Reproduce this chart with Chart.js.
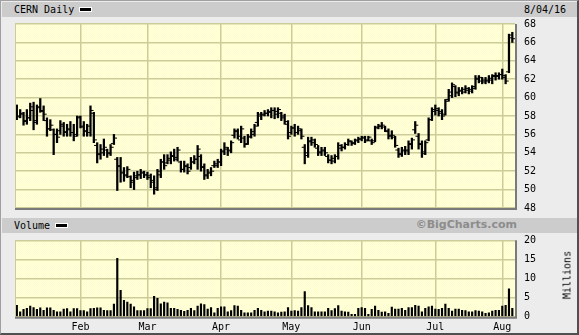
<!DOCTYPE html>
<html>
<head>
<meta charset="utf-8">
<script src="https://cdn.jsdelivr.net/npm/chart.js@4.4.1/dist/chart.umd.min.js"></script>
<style>
body { margin: 0; background: #fff; }
#page {
    position: relative; width: 579px; height: 335px; box-sizing: border-box;
    background: #ececec; overflow: hidden;
    border: 1px solid #a0a0a0; border-right: 2px solid #505050; border-bottom: 2px solid #505050;
    font-family: "DejaVu Sans Mono", monospace; font-size: 10px; color: #000;
}
.band { position: absolute; left: 1px; width: 577px; height: 15px; background: #cccccc; }
.label { position: absolute; line-height: 15px; white-space: nowrap; }
.swatch { position: absolute; width: 11px; height: 3px; background: #000; border: 1px solid #fff; }
.brand { position: absolute; top: 217px; right: 60px; line-height: 15px; font: bold 11px "DejaVu Sans", sans-serif; color: #8c8c8c; }
.millions { position: absolute; left: 566px; top: 274px; transform: translate(-50%, -50%) rotate(-90deg); white-space: nowrap; }
canvas { position: absolute; left: -1px; }
</style>
</head>
<body>
<div id="page">
    <div class="band" style="top:1px"></div>
    <div class="label" style="left:13px;top:1px">CERN Daily</div>
    <div class="swatch" style="left:78px;top:6px"></div>
    <div class="label" style="left:523px;top:1px">8/04/16</div>

    <div class="band" style="top:217px"></div>
    <div class="label" style="left:13px;top:217px">Volume</div>
    <div class="swatch" style="left:54px;top:222px"></div>
    <div class="brand">©BigCharts.com</div>

    <canvas id="priceChart" width="579" height="215" style="top:-1px"></canvas>
    <canvas id="volumeChart" width="579" height="110" style="top:224px"></canvas>
    <div class="millions">Millions</div>
</div>

<script>
// month gridlines sit on the first trading day of each month (index into the daily arrays)
const monthLabels = ["Feb", "Mar", "Apr", "May", "Jun", "Jul", "Aug"];
const monthStarts = [19, 39, 61, 82, 103, 125, 145];
const priceTicks = [48, 50, 52, 54, 56, 58, 60, 62, 64, 66, 68];
const volumeTicks = [0, 5, 10, 15, 20];

// daily bars, Jan 4 - Aug 4 2016
const openPrice = [
    58.8, 58.0, 58.2, 57.5, 57.8, 59.0, 57.5, 59.0, 58.5, 57.5, 56.6, 56.5, 56.0, 56.4, 56.9, 56.2, 56.5, 56.2, 56.0,
    57.8, 56.8, 56.3, 56.2, 58.3, 54.8, 53.9, 54.0, 54.3, 54.0, 55.0, 53.3, 52.6, 51.8, 51.6, 51.4, 51.0, 51.5, 51.6, 51.8,
    51.6, 51.5, 51.0, 50.2, 51.6, 53.0, 52.9, 53.2, 53.6, 53.3, 53.0, 52.2, 52.5, 52.4, 53.0, 53.3, 53.6, 52.5, 51.6, 51.8, 52.6, 52.6,
    53.0, 54.2, 54.4, 54.3, 55.9, 56.4, 55.4, 55.6, 55.0, 55.8, 56.0, 57.3, 58.0, 58.2, 58.3, 58.4, 58.6, 58.5, 58.3, 58.0, 57.1,
    56.2, 56.7, 56.2, 56.4, 54.6, 54.0, 55.2, 55.1, 54.5, 54.1, 54.3, 53.6, 53.2, 53.1, 53.6, 54.5, 54.6, 54.9, 55.2, 55.1, 55.3,
    55.5, 55.7, 55.4, 55.3, 55.3, 56.8, 56.9, 56.8, 56.3, 55.9, 55.7, 54.3, 53.9, 54.2, 54.2, 55.0, 56.5, 55.8, 55.0, 54.1, 55.4, 57.6,
    58.7, 58.6, 58.5, 58.2, 59.8, 60.2, 61.2, 60.6, 60.8, 60.9, 60.8, 60.9, 61.2, 62.1, 61.8, 61.9, 61.8, 61.9, 62.3, 62.4,
    62.5, 62.2, 62.8, 66.8
];
const highPrice = [
    59.2, 58.7, 58.4, 58.7, 59.4, 59.5, 59.2, 59.9, 59.1, 57.8, 57.6, 56.6, 56.6, 57.5, 57.3, 57.1, 57.4, 57.1, 58.0,
    58.0, 57.4, 57.1, 59.1, 58.4, 55.1, 54.9, 55.5, 54.4, 54.9, 56.0, 53.5, 53.5, 52.4, 52.5, 51.5, 51.9, 52.0, 52.2, 52.0,
    51.9, 51.7, 51.5, 52.2, 53.3, 53.8, 53.8, 54.1, 54.4, 54.6, 53.1, 53.1, 52.8, 53.5, 53.7, 54.8, 53.8, 52.8, 52.2, 52.4, 53.1, 53.3,
    54.4, 55.1, 54.6, 55.3, 56.6, 56.6, 56.9, 55.8, 56.0, 56.6, 57.1, 58.4, 58.4, 58.6, 58.7, 58.9, 58.9, 58.9, 58.4, 58.2, 57.5,
    56.9, 57.1, 56.9, 56.6, 54.9, 55.7, 55.7, 55.5, 54.8, 54.6, 54.6, 53.8, 53.7, 53.8, 55.1, 54.9, 55.1, 55.5, 55.3, 55.5, 55.7,
    55.8, 55.8, 55.8, 55.5, 56.9, 57.1, 57.3, 56.9, 56.6, 56.4, 55.8, 54.5, 54.6, 54.7, 55.3, 55.6, 57.4, 56.1, 55.3, 55.3, 57.8, 58.9,
    59.2, 58.9, 58.7, 59.8, 60.9, 61.6, 61.3, 61.1, 61.1, 61.3, 61.1, 61.3, 62.4, 62.4, 62.2, 62.2, 62.4, 62.5, 62.7, 62.7,
    63.1, 62.5, 66.9, 67.1
];
const lowPrice = [
    57.6, 57.8, 57.0, 57.1, 57.5, 56.5, 57.1, 58.4, 57.5, 55.8, 56.4, 53.8, 55.1, 56.0, 55.8, 55.8, 55.8, 55.3, 55.8,
    56.7, 55.8, 55.8, 55.8, 55.1, 52.9, 53.3, 53.7, 53.5, 53.7, 54.9, 49.9, 50.8, 50.9, 51.3, 50.2, 50.0, 51.1, 51.2, 51.3,
    51.1, 50.2, 49.5, 49.9, 51.3, 52.2, 52.8, 52.8, 53.1, 53.1, 51.9, 51.9, 51.7, 52.2, 52.8, 52.2, 52.0, 51.1, 51.2, 51.5, 52.4, 52.4,
    52.6, 53.8, 53.7, 54.0, 55.6, 55.5, 55.1, 54.6, 54.9, 55.6, 55.8, 56.9, 57.6, 58.0, 58.0, 57.8, 57.7, 57.8, 57.5, 57.1, 55.5,
    56.0, 55.8, 56.0, 55.5, 52.8, 53.5, 54.8, 54.6, 53.7, 53.7, 53.7, 52.9, 52.8, 52.9, 53.3, 54.2, 54.4, 54.8, 54.8, 54.9, 55.1,
    55.3, 55.1, 55.3, 54.9, 55.2, 56.6, 56.6, 56.3, 55.5, 55.5, 54.6, 53.5, 53.6, 53.8, 53.8, 54.4, 56.1, 54.4, 53.5, 53.8, 55.3, 57.5,
    58.1, 58.0, 57.6, 58.1, 59.6, 60.0, 60.1, 60.2, 60.4, 60.5, 60.4, 60.5, 60.9, 61.6, 61.5, 61.5, 61.6, 61.5, 61.9, 62.0,
    62.0, 61.5, 62.7, 66.0
];
const closePrice = [
    57.9, 58.3, 57.4, 57.8, 58.6, 57.3, 58.9, 58.6, 58.2, 56.6, 57.0, 56.0, 55.7, 57.1, 56.3, 56.6, 56.2, 55.8, 57.9,
    56.9, 56.4, 56.9, 58.6, 55.4, 53.8, 54.4, 54.6, 53.9, 54.6, 55.6, 52.5, 51.9, 51.5, 52.2, 50.8, 51.3, 51.6, 51.9, 51.6,
    51.3, 50.8, 50.0, 52.0, 53.0, 52.6, 53.4, 53.7, 53.5, 54.3, 52.2, 52.6, 52.0, 53.0, 53.3, 54.4, 52.4, 51.5, 51.9, 52.0, 52.8, 53.0,
    54.1, 54.6, 54.2, 55.1, 56.3, 55.8, 56.6, 54.9, 55.7, 56.3, 56.9, 58.2, 58.1, 58.3, 58.5, 58.6, 58.2, 58.7, 57.8, 57.4, 55.8,
    56.7, 56.2, 56.6, 55.8, 53.7, 55.3, 55.4, 54.9, 54.0, 54.2, 54.0, 53.2, 53.4, 53.6, 54.8, 54.6, 54.9, 55.3, 55.0, 55.4, 55.5,
    55.6, 55.3, 55.7, 55.1, 56.7, 56.9, 57.0, 56.4, 55.8, 55.9, 54.8, 53.8, 54.3, 54.3, 54.9, 55.4, 57.0, 54.9, 53.9, 55.1, 57.6, 58.5,
    58.8, 58.3, 58.0, 59.6, 60.6, 61.4, 60.5, 60.7, 60.6, 61.0, 60.7, 61.0, 62.0, 62.2, 61.7, 61.9, 62.1, 62.4, 62.3, 62.5,
    62.4, 61.8, 66.5, 66.4
];
// millions of shares
const volume = [
    3.0, 1.3, 1.9, 2.2, 2.8, 2.4, 1.9, 2.3, 1.7, 2.3, 2.3, 1.7, 1.3, 1.3, 2.0, 2.1, 1.3, 2.1, 2.1,
    1.6, 1.6, 1.3, 2.1, 2.2, 2.3, 2.3, 1.7, 1.6, 1.6, 3.3, 15.3, 6.9, 4.3, 3.8, 3.3, 2.6, 1.6, 1.6, 1.6,
    2.1, 2.1, 5.3, 4.8, 3.4, 3.8, 3.6, 2.2, 2.2, 1.9, 1.7, 1.4, 1.7, 2.2, 1.6, 2.8, 3.4, 3.2, 2.0, 2.4, 1.0, 2.2,
    2.6, 2.6, 1.3, 1.6, 2.9, 2.8, 1.7, 1.0, 1.0, 1.0, 1.7, 2.2, 1.7, 1.3, 1.5, 1.5, 1.3, 1.0, 1.2, 1.3, 2.4,
    1.5, 1.6, 1.5, 2.4, 6.6, 2.9, 2.4, 1.3, 1.3, 1.3, 1.3, 2.2, 1.6, 2.1, 2.9, 1.5, 1.3, 1.2, 0.6, 0.6, 2.2,
    2.4, 2.2, 0.6, 1.9, 2.8, 1.7, 1.2, 1.3, 0.9, 2.5, 2.0, 2.0, 2.2, 1.7, 2.4, 2.4, 3.0, 2.8, 1.3, 2.2, 2.6, 2.8,
    2.0, 1.9, 2.2, 3.3, 2.2, 1.5, 2.0, 2.0, 1.7, 1.6, 1.3, 1.3, 1.6, 1.5, 1.3, 0.9, 1.0, 1.5, 1.7, 1.7,
    2.8, 3.0, 7.3, 2.2
];

const gridColor = "#cccc99";
const xMin = -0.55, xMax = 148.8;

Chart.defaults.font.family = "'DejaVu Sans Mono', monospace";
Chart.defaults.font.size = 10;
Chart.defaults.color = "#000";

// pale yellow dither behind the plot
let dots = document.createElement("canvas");
dots.width = 2; dots.height = 2;
let dg = dots.getContext("2d");
dg.fillStyle = "#ffffc4";
dg.fillRect(0, 0, 2, 2);
dg.fillStyle = "#ffffe6";
dg.fillRect(0, 0, 1, 1);
dg.fillRect(1, 1, 1, 1);

const panelPlugin = {
    id: "panel",
    beforeDraw(chart) {
        let a = chart.chartArea, ctx = chart.ctx;
        ctx.save();
        ctx.fillStyle = ctx.createPattern(dots, "repeat");
        ctx.fillRect(a.left, a.top, a.right - a.left, a.bottom - a.top);
        ctx.restore();
    },
    afterDraw(chart) {
        let a = chart.chartArea, ctx = chart.ctx;
        ctx.save();
        ctx.strokeStyle = gridColor;
        ctx.lineWidth = 1;
        ctx.beginPath();
        ctx.moveTo(a.left + 0.5, a.bottom);
        ctx.lineTo(a.left + 0.5, a.top);
        ctx.stroke();
        // darker edge along bottom and right
        ctx.strokeStyle = "#7a7a7a";
        ctx.lineWidth = 2;
        ctx.beginPath();
        ctx.moveTo(a.left, a.bottom + 1);
        ctx.lineTo(a.right + 1, a.bottom + 1);
        ctx.lineTo(a.right + 1, a.top);
        ctx.stroke();
        ctx.restore();
    }
};

function monthAxis(showLabels, height) {
    return {
        type: "linear",
        min: xMin,
        max: xMax,
        offset: false,
        afterBuildTicks: s => { s.ticks = monthStarts.map(v => ({ value: v })); },
        afterFit: s => { s.height = height; },
        grid: { color: gridColor, lineWidth: 1.5, drawTicks: false, offset: false },
        border: { display: false },
        ticks: {
            display: showLabels,
            padding: 5,
            autoSkip: false,
            maxRotation: 0,
            callback: v => monthLabels[monthStarts.indexOf(v)]
        }
    };
}

function valueAxis(min, max, tickList) {
    // the gap before the labels comes from an invisible tick mark, so the axis
    // does not ask the layout for extra room above and below the plot
    return {
        position: "right",
        min: min,
        max: max,
        afterBuildTicks: s => { s.ticks = tickList.map(v => ({ value: v })); },
        afterFit: s => { s.width = 64; },
        grid: { color: gridColor, lineWidth: 1.5, drawTicks: true, tickLength: 9, tickColor: "rgba(0,0,0,0)" },
        border: { display: false },
        ticks: { padding: 0 }
    };
}

function tickSet(values, shift) {
    return {
        type: "scatter",
        data: values.map((v, i) => ({ x: i + shift, y: v })),
        pointStyle: "line",
        pointRadius: 1.4,
        pointBorderWidth: 1,
        pointBorderColor: "#000",
        showLine: false
    };
}

new Chart(document.getElementById("priceChart"), {
    type: "bar",
    data: {
        datasets: [
            {
                type: "bar",
                data: highPrice.map((h, i) => ({ x: i, y: [lowPrice[i], h] })),
                backgroundColor: "#000",
                barThickness: 1.6,
                grouped: false
            },
            tickSet(openPrice, -0.5),
            tickSet(closePrice, 0.5)
        ]
    },
    options: {
        responsive: false,
        animation: false,
        devicePixelRatio: 1,
        layout: { padding: { left: 15, top: 24, right: 0, bottom: 7 } },
        plugins: { legend: { display: false }, tooltip: { enabled: false } },
        scales: {
            x: monthAxis(false, 0),
            y: valueAxis(48, 68, priceTicks)
        }
    },
    plugins: [panelPlugin]
});

new Chart(document.getElementById("volumeChart"), {
    type: "bar",
    data: {
        datasets: [{
            data: volume.map((v, i) => ({ x: i, y: v })),
            backgroundColor: "#000",
            barThickness: 1.5
        }]
    },
    options: {
        responsive: false,
        animation: false,
        devicePixelRatio: 1,
        layout: { padding: { left: 15, top: 15.3, right: 0, bottom: 0 } },
        plugins: { legend: { display: false }, tooltip: { enabled: false } },
        scales: {
            x: monthAxis(true, 18.3),
            y: valueAxis(0, 20, volumeTicks)
        }
    },
    plugins: [panelPlugin]
});
</script>
</body>
</html>
